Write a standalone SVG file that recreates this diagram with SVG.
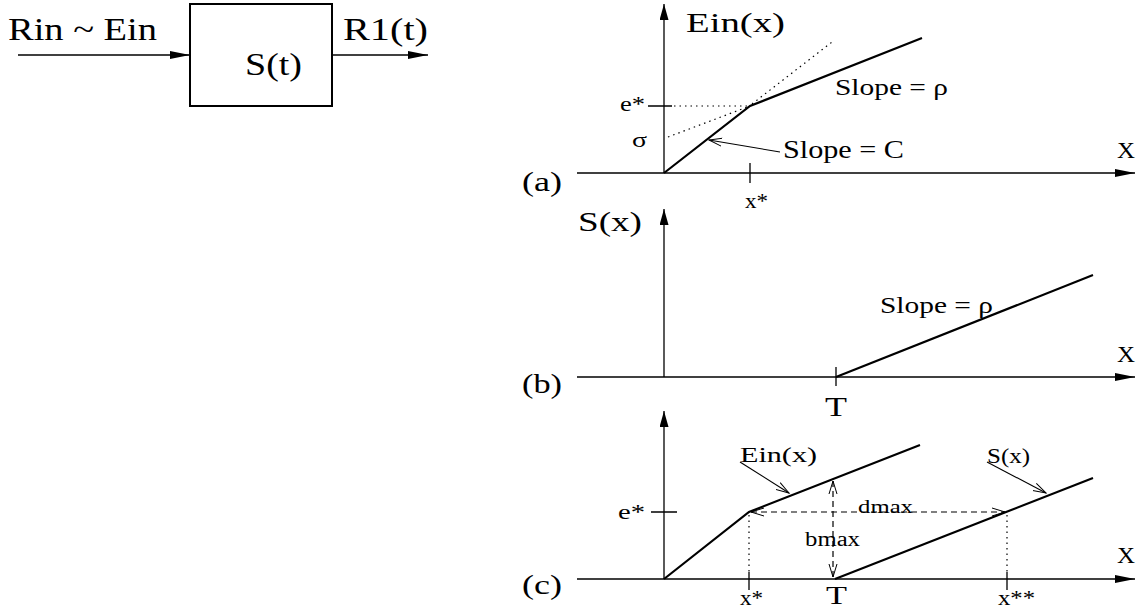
<svg xmlns="http://www.w3.org/2000/svg" width="1141" height="608" viewBox="0 0 1141 608">
<style>
text{font-family:"Liberation Serif","Times New Roman",serif;fill:#000}
.ax{stroke:#000;stroke-width:1.3;fill:none}
.cv{stroke:#000;stroke-width:2.2;fill:none}
.dot{stroke:#000;stroke-width:1.2;fill:none;stroke-dasharray:1.5 4}
.dash{stroke:#000;stroke-width:1.2;fill:none;stroke-dasharray:6 4}
.ptr{stroke:#000;stroke-width:1.1;fill:none}
</style>
<defs>
<marker id="fa" viewBox="0 0 20 8" markerWidth="20" markerHeight="8" refX="20" refY="4" orient="auto" markerUnits="userSpaceOnUse"><path d="M0,0 L20,4 L0,8 z" fill="#000"/></marker>
<marker id="fv" viewBox="0 0 16 9" markerWidth="16" markerHeight="9" refX="16" refY="4.5" orient="auto" markerUnits="userSpaceOnUse"><path d="M0,0 L16,4.5 L0,9 z" fill="#000"/></marker>
<marker id="oa" viewBox="0 0 14 10" markerWidth="14" markerHeight="10" refX="13" refY="5" orient="auto-start-reverse" markerUnits="userSpaceOnUse"><path d="M0,1 L13,5 L0,9" fill="none" stroke="#000" stroke-width="1"/></marker>
</defs>

<g id="block">
<rect x="190" y="4" width="142" height="102" fill="none" stroke="#000" stroke-width="2"/>
<text x="245" y="75" font-size="32" textLength="57" lengthAdjust="spacingAndGlyphs">S(t)</text>
</g>
<g id="block-labels">
<text x="8" y="40" font-size="32" textLength="149" lengthAdjust="spacingAndGlyphs">Rin ~ Ein</text>
<text x="343" y="40" font-size="32" textLength="85" lengthAdjust="spacingAndGlyphs">R1(t)</text>
</g>

<g id="panel-a">
<text x="522" y="191" font-size="27" textLength="40" lengthAdjust="spacingAndGlyphs">(a)</text>
<text x="686" y="32" font-size="27" textLength="99" lengthAdjust="spacingAndGlyphs">Ein(x)</text>
<text x="620" y="111" font-size="21" textLength="25" lengthAdjust="spacingAndGlyphs">e*</text>
<text x="632" y="147" font-size="22" textLength="15" lengthAdjust="spacingAndGlyphs">σ</text>
<text x="783" y="158" font-size="25" textLength="121" lengthAdjust="spacingAndGlyphs">Slope = C</text>
<text x="835" y="95" font-size="24" textLength="113" lengthAdjust="spacingAndGlyphs">Slope = ρ</text>
<text x="1117" y="158" font-size="23" textLength="18" lengthAdjust="spacingAndGlyphs">X</text>
<text x="745" y="208" font-size="21" textLength="23" lengthAdjust="spacingAndGlyphs">x*</text>
<path class="cv" d="M664,173 L750,106 L922,38"/>
</g>

<g id="panel-b">
<text x="522" y="393" font-size="27" textLength="40" lengthAdjust="spacingAndGlyphs">(b)</text>
<text x="578" y="231" font-size="28" textLength="64" lengthAdjust="spacingAndGlyphs">S(x)</text>
<text x="880" y="313" font-size="24" textLength="113" lengthAdjust="spacingAndGlyphs">Slope = ρ</text>
<text x="1117" y="362" font-size="23" textLength="18" lengthAdjust="spacingAndGlyphs">X</text>
<text x="825" y="416" font-size="27" textLength="22" lengthAdjust="spacingAndGlyphs">T</text>
<path class="cv" d="M836,377 L1093,275"/>
</g>

<g id="panel-c">
<text x="522" y="594" font-size="27" textLength="40" lengthAdjust="spacingAndGlyphs">(c)</text>
<text x="618" y="519" font-size="21" textLength="27" lengthAdjust="spacingAndGlyphs">e*</text>
<text x="740" y="462" font-size="22" textLength="77" lengthAdjust="spacingAndGlyphs">Ein(x)</text>
<text x="987" y="463" font-size="22" textLength="43" lengthAdjust="spacingAndGlyphs">S(x)</text>
<text x="858" y="513" font-size="19" textLength="55" lengthAdjust="spacingAndGlyphs">dmax</text>
<text x="805" y="546" font-size="20" textLength="55" lengthAdjust="spacingAndGlyphs">bmax</text>
<text x="1117" y="563" font-size="23" textLength="18" lengthAdjust="spacingAndGlyphs">X</text>
<text x="740" y="605" font-size="21" textLength="23" lengthAdjust="spacingAndGlyphs">x*</text>
<text x="826" y="604" font-size="26" textLength="21" lengthAdjust="spacingAndGlyphs">T</text>
<text x="998" y="605" font-size="21" textLength="37" lengthAdjust="spacingAndGlyphs">x**</text>
<path class="cv" d="M664,579 L749,512 L920,445"/>
<path class="cv" d="M835,579 L1093,478"/>
</g>

<g id="connectors">
<path class="ax" d="M18,55 H190" marker-end="url(#fa)"/>
<path class="ax" d="M332,55 H428" marker-end="url(#fa)"/>
<path class="ax" d="M577,173 H1135" marker-end="url(#fa)"/>
<path class="ax" d="M664,173 V4" marker-end="url(#fv)"/>
<path class="ax" d="M750,163 V183 M648,106 H672"/>
<path class="dot" d="M674,106 H748 M668,137 L750,106 M752,104 L832,42"/>
<path class="ptr" d="M780,152 L709,140" marker-end="url(#oa)"/>
<path class="ax" d="M577,377 H1135" marker-end="url(#fa)"/>
<path class="ax" d="M664,377 V209" marker-end="url(#fv)"/>
<path class="ax" d="M836,367 V386"/>
<path class="ax" d="M577,579 H1135" marker-end="url(#fa)"/>
<path class="ax" d="M664,579 V411" marker-end="url(#fv)"/>
<path class="ax" d="M651,512 H677 M749,572 V590 M1007,572 V590"/>
<path class="dot" d="M749,515 V572 M1007,515 V572"/>
<path class="dash" d="M751,512 H1005" marker-start="url(#oa)" marker-end="url(#oa)"/>
<path class="dash" d="M833,481 V577" marker-start="url(#oa)" marker-end="url(#oa)"/>
<path class="ptr" d="M740,462 L789,493" marker-end="url(#oa)"/>
<path class="ptr" d="M987,462 L1046,493" marker-end="url(#oa)"/>
</g>
</svg>
